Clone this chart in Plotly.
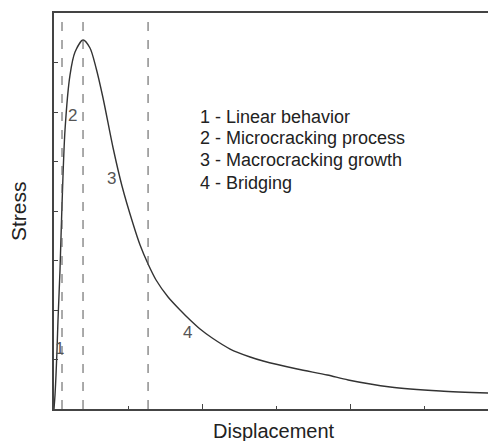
import plotly.graph_objects as go

# Curve data (Displacement vs Stress)
displacement = [0.0, 0.0068, 0.0135, 0.0203, 0.027, 0.0405, 0.054, 0.0743, 0.108, 0.142,
                0.196, 0.243, 0.284, 0.331, 0.399, 0.459, 0.534, 0.581, 0.635, 0.689,
                0.770, 0.851, 0.919, 0.986, 1.068, 1.189, 1.324, 1.412, 1.642, 1.845,
                1.986, 2.270, 2.608, 2.932]
stress = [0.0, 0.283, 0.687, 1.192, 1.798, 2.808, 4.121, 5.636, 6.747, 7.212,
          7.455, 7.293, 6.889, 6.283, 5.273, 4.505, 3.737, 3.313, 2.929, 2.606,
          2.263, 2.000, 1.798, 1.616, 1.434, 1.212, 1.051, 0.970, 0.808, 0.687,
          0.586, 0.444, 0.364, 0.323]

# Stage boundaries (dashed lines)
boundaries = [0.054, 0.196, 0.635]

# Stage number labels on the curve
stage_labels = ["1", "2", "3", "4"]
stage_x = [0.04, 0.128, 0.385, 0.898]
stage_y = [1.23, 5.92, 4.65, 1.54]

legend_lines = ["1 - Linear behavior", "2 - Microcracking process",
                "3 - Macrocracking growth", "4 - Bridging"]
legend_y = [5.90, 5.47, 5.03, 4.57]
legend_x = 0.973

FONT = "Liberation Sans, Arial, sans-serif"

fig = go.Figure()
fig.add_trace(go.Scatter(x=displacement, y=stress, mode="lines",
                         line=dict(color="#333333", width=1.4, shape="spline", smoothing=0.8),
                         showlegend=False, hoverinfo="skip"))

for b in boundaries:
    fig.add_shape(type="line", x0=b, x1=b, y0=0, y1=1, xref="x", yref="paper",
                  line=dict(color="#555555", width=1, dash="dash"))

for t, x, y in zip(stage_labels, stage_x, stage_y):
    fig.add_annotation(x=x, y=y, text=t, showarrow=False,
                       font=dict(family=FONT, size=17, color="#555555"))

for t, y in zip(legend_lines, legend_y):
    fig.add_annotation(x=legend_x, y=y, xref="x", yref="y", xanchor="left", yanchor="middle",
                       text=t, showarrow=False,
                       font=dict(family=FONT, size=18, color="#222222"))

# Axis titles
fig.add_annotation(text="Displacement", x=0.507, y=-0.056, xref="paper", yref="paper",
                   xanchor="center", yanchor="middle", showarrow=False,
                   font=dict(family=FONT, size=20, color="#222222"))
fig.add_annotation(text="Stress", x=-0.083, y=0.5, xref="paper", yref="paper",
                   xanchor="center", yanchor="middle", showarrow=False, textangle=-90,
                   font=dict(family=FONT, size=21, color="#222222"))

fig.update_layout(
    width=488, height=441,
    margin=dict(l=54, r=0, t=13, b=32),
    paper_bgcolor="white", plot_bgcolor="white",
    font=dict(family=FONT, color="#222222"),
    xaxis=dict(range=[0, 2.93], showgrid=False, zeroline=False,
               showline=True, linecolor="#444444", linewidth=1.5, mirror=True,
               ticks="inside", tickvals=[1, 2], ticklen=5, tickcolor="#444444",
               showticklabels=False,
               minor=dict(tickvals=[0.5, 1.5, 2.5], ticks="inside", ticklen=3, tickcolor="#444444")),
    yaxis=dict(range=[0, 8], showgrid=False, zeroline=False,
               showline=True, linecolor="#444444", linewidth=1.8,
               ticks="inside", tickvals=[1, 2, 3, 4, 5, 6, 7], ticklen=4, tickcolor="#444444",
               showticklabels=False),
)

fig.write_html("out.html")
